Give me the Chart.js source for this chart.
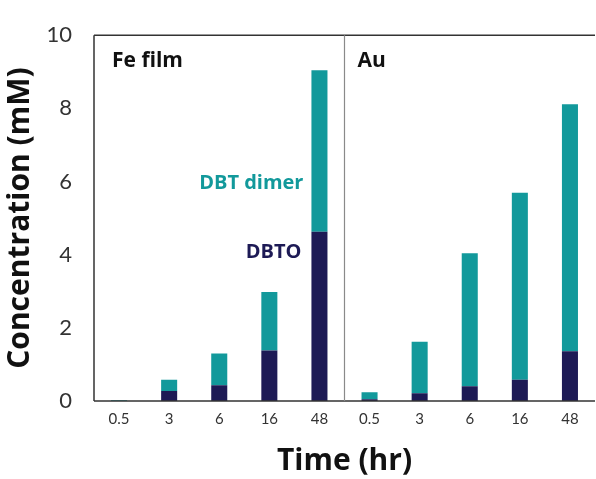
<!DOCTYPE html>
<html>
<head>
<meta charset="utf-8">
<script src="https://cdn.jsdelivr.net/npm/chart.js@4.4.1/dist/chart.umd.min.js"></script>
<style>
  html, body { margin: 0; padding: 0; background: #fff; }
  #wrap { width: 596px; height: 479px; }
</style>
</head>
<body>
<div id="wrap"><canvas id="c" width="596" height="479"></canvas></div>
<script>
// categorias: 5 tiempos por panel (Fe film | Au)
const times = ['0.5', '3', '6', '16', '48'];
const panels = ['Fe film', 'Au'];
const yTicks = [0, 2, 4, 6, 8, 10];

// valores (mM)
const dbtoFe  = [0.00, 0.27, 0.43, 1.38, 4.63];
const dimerFe = [0.02, 0.31, 0.87, 1.60, 4.41];
const dbtoAu  = [0.05, 0.21, 0.40, 0.58, 1.36];
const dimerAu = [0.19, 1.41, 3.64, 5.11, 6.75];

const TEAL = '#12999b';
const NAVY = '#1d1a55';
const FONT = 'Lato, "Open Sans", sans-serif';
const BOLD = '"Open Sans", Lato, sans-serif';

const labels = [...times, ...times];

// caja, divisor entre paneles, etiquetas de panel y de serie
const panelDeco = {
  id: 'panelDeco',
  afterDatasetsDraw(chart) {
    const { ctx, chartArea: a, scales: { x, y } } = chart;
    ctx.save();
    ctx.lineWidth = 1.5;
    ctx.strokeStyle = '#333';
    ctx.beginPath();
    ctx.moveTo(a.left, a.top); ctx.lineTo(a.right, a.top);
    ctx.moveTo(a.left, a.top); ctx.lineTo(a.left, a.bottom);
    ctx.moveTo(a.left, a.bottom); ctx.lineTo(a.right, a.bottom);
    ctx.stroke();

    const mid = (x.getPixelForValue(4) + x.getPixelForValue(5)) / 2;
    ctx.strokeStyle = '#8a8a8a';
    ctx.lineWidth = 1.2;
    ctx.beginPath();
    ctx.moveTo(mid, a.top); ctx.lineTo(mid, a.bottom);
    ctx.stroke();

    ctx.fillStyle = '#111';
    ctx.font = 'bold 21px ' + BOLD;
    ctx.textBaseline = 'alphabetic';
    ctx.textAlign = 'left';
    ctx.fillText(panels[0], a.left + 18, a.top + 32);
    ctx.fillText(panels[1], mid + 13, a.top + 32);

    ctx.textAlign = 'right';
    ctx.font = 'bold 20px ' + BOLD;
    ctx.fillStyle = TEAL;
    ctx.fillText('DBT dimer', x.getPixelForValue(4) - 16, y.getPixelForValue(5.8));
    ctx.fillStyle = NAVY;
    ctx.fillText('DBTO', x.getPixelForValue(4) - 18, y.getPixelForValue(3.91));
    ctx.restore();
  }
};

new Chart(document.getElementById('c'), {
  type: 'bar',
  data: {
    labels,
    datasets: [
      { label: 'DBTO', data: [...dbtoFe, ...dbtoAu], backgroundColor: NAVY },
      { label: 'DBT dimer', data: [...dimerFe, ...dimerAu], backgroundColor: TEAL }
    ]
  },
  options: {
    responsive: false,
    animation: false,
    layout: { padding: { top: 25, right: 1, left: 0, bottom: 0 } },
    plugins: { legend: { display: false }, tooltip: { enabled: false } },
    datasets: { bar: { barPercentage: 0.64, categoryPercentage: 0.5 } },
    scales: {
      x: {
        stacked: true,
        grid: { display: false, drawTicks: false },
        border: { display: false },
        ticks: { color: '#333', font: { family: FONT, size: 15 }, padding: 9, maxRotation: 0 },
        title: { display: true, text: 'Time (hr)', color: '#111', font: { family: BOLD, size: 30, weight: 'bold' }, padding: { top: 20, bottom: 0 } },
        afterFit: s => { s.height = 78; }
      },
      y: {
        stacked: true,
        min: 0, max: 10,
        afterBuildTicks: s => { s.ticks = yTicks.map(v => ({ value: v })); },
        grid: { display: false, drawTicks: false },
        border: { display: false },
        ticks: { color: '#333', font: { family: FONT, size: 22 }, padding: 22 },
        title: { display: true, text: 'Concentration (mM)', color: '#111', font: { family: BOLD, size: 30, weight: 'bold' }, padding: { top: 2, bottom: 0 } },
        afterFit: s => { s.width = 94; }
      }
    }
  },
  plugins: [panelDeco]
});
</script>
</body>
</html>
